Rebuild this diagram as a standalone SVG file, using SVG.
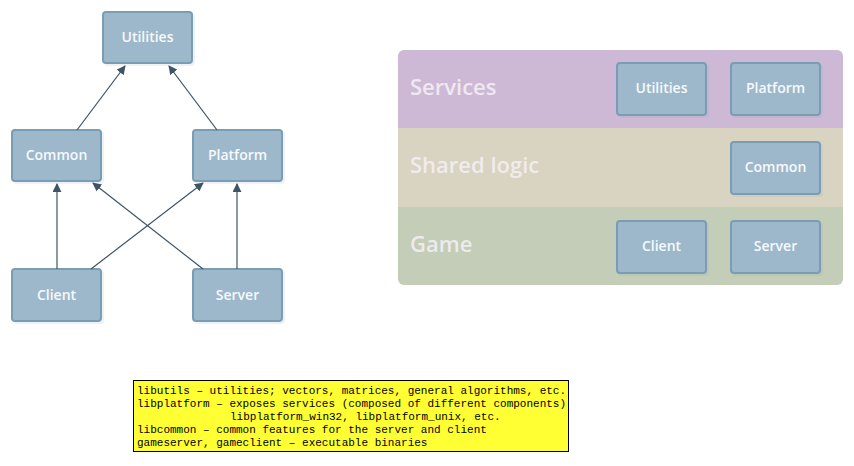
<svg xmlns="http://www.w3.org/2000/svg" width="854" height="466" viewBox="0 0 854 466">
<defs>
<style>
.node rect{fill:#9db8cb;stroke:#7b9db4;stroke-width:2}
.node text{font-family:"Open Sans","DejaVu Sans",sans-serif;font-size:14px;font-weight:600;fill:#f7f9fb;text-anchor:middle}
.shadow{fill:#000;opacity:0.12}
.edge{stroke:#3d5566;stroke-width:1.2;fill:none;marker-end:url(#arr)}
.band{font-family:"Open Sans","DejaVu Sans",sans-serif;font-size:22px;font-weight:600;fill:#f5f1f5;opacity:0.85}
.note{font-family:"Liberation Mono",monospace;font-size:11px;fill:#000}
</style>
<marker id="arr" viewBox="0 0 10 10" refX="9" refY="5" markerWidth="9" markerHeight="9" markerUnits="userSpaceOnUse" orient="auto">
<path d="M0,0 L10,5 L0,10 z" fill="#3d5566"/>
</marker>
</defs>
<rect width="854" height="466" fill="#fff"/>
<g id="left-nodes">
<g id="n-utilities" class="node"><rect class="shadow" x="105" y="14" width="89" height="51" rx="3"/><rect x="103" y="12" width="89" height="51" rx="3"/><text x="147.5" y="42">Utilities</text></g>
<g id="n-common" class="node"><rect class="shadow" x="14" y="132" width="89" height="51" rx="3"/><rect x="12" y="130" width="89" height="51" rx="3"/><text x="56.5" y="160">Common</text></g>
<g id="n-platform" class="node"><rect class="shadow" x="195" y="132" width="89" height="51" rx="3"/><rect x="193" y="130" width="89" height="51" rx="3"/><text x="237.5" y="160">Platform</text></g>
<g id="n-client" class="node"><rect class="shadow" x="14" y="271" width="89" height="52" rx="3"/><rect x="12" y="269" width="89" height="52" rx="3"/><text x="56.5" y="300">Client</text></g>
<g id="n-server" class="node"><rect class="shadow" x="195" y="271" width="89" height="52" rx="3"/><rect x="193" y="269" width="89" height="52" rx="3"/><text x="237.5" y="300">Server</text></g>
</g>
<g id="connectors">
<line class="edge" x1="77" y1="130" x2="125" y2="66"/>
<line class="edge" x1="217" y1="130" x2="169" y2="66"/>
<line class="edge" x1="57" y1="269" x2="57" y2="184"/>
<line class="edge" x1="237" y1="269" x2="237" y2="184"/>
<line class="edge" x1="91" y1="269" x2="203" y2="183"/>
<line class="edge" x1="203" y1="269" x2="93" y2="183"/>
</g>
<g id="layers">
<path d="M398,56 a6,6 0 0 1 6,-6 h433 a6,6 0 0 1 6,6 v72 h-445 z" fill="#cdb9d5"/>
<rect x="398" y="128" width="445" height="79" fill="#d9d3c1"/>
<path d="M398,207 h445 v72 a6,6 0 0 1 -6,6 h-433 a6,6 0 0 1 -6,-6 z" fill="#c3cdb8"/>
<text class="band" x="410" y="95">Services</text>
<text class="band" x="410" y="173">Shared logic</text>
<text class="band" x="410" y="252">Game</text>
</g>
<g id="right-nodes">
<g id="r-utilities" class="node"><rect class="shadow" x="619" y="65" width="89" height="52" rx="3"/><rect x="617" y="63" width="89" height="52" rx="3"/><text x="661.5" y="93">Utilities</text></g>
<g id="r-platform" class="node"><rect class="shadow" x="733" y="65" width="89" height="52" rx="3"/><rect x="731" y="63" width="89" height="52" rx="3"/><text x="775.5" y="93">Platform</text></g>
<g id="r-common" class="node"><rect class="shadow" x="733" y="144" width="89" height="52" rx="3"/><rect x="731" y="142" width="89" height="52" rx="3"/><text x="775.5" y="172">Common</text></g>
<g id="r-client" class="node"><rect class="shadow" x="619" y="223" width="89" height="52" rx="3"/><rect x="617" y="221" width="89" height="52" rx="3"/><text x="661.5" y="251">Client</text></g>
<g id="r-server" class="node"><rect class="shadow" x="733" y="223" width="89" height="52" rx="3"/><rect x="731" y="221" width="89" height="52" rx="3"/><text x="775.5" y="251">Server</text></g>
</g>
<g id="legend">
<rect x="133.5" y="380.5" width="435" height="71" fill="#ffff33" stroke="#000" stroke-width="1"/>
<text class="note" x="137" y="394">libutils – utilities; vectors, matrices, general algorithms, etc.</text>
<text class="note" x="137" y="407">libplatform – exposes services (composed of different components)</text>
<text class="note" x="230" y="420">libplatform_win32, libplatform_unix, etc.</text>
<text class="note" x="137" y="433">libcommon – common features for the server and client</text>
<text class="note" x="137" y="446">gameserver, gameclient – executable binaries</text>
</g>
</svg>
